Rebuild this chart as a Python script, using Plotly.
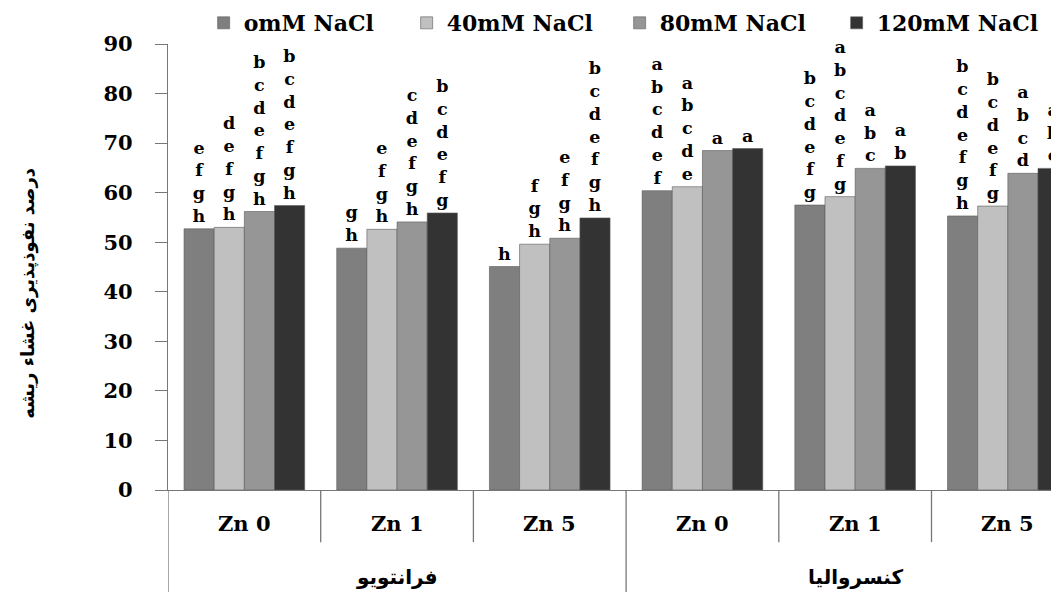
import plotly.graph_objects as go

# ---- data ----
zn_levels = ["Zn 0", "Zn 1", "Zn 5", "Zn 0", "Zn 1", "Zn 5"]
cultivars = ["فرانتویو", "کنسروالیا"]
series_names = ["omM NaCl", "40mM NaCl", "80mM NaCl", "120mM NaCl"]

nacl_0 = [52.7, 48.8, 45.1, 60.4, 57.5, 55.3]
nacl_40 = [53.0, 52.6, 49.6, 61.2, 59.2, 57.3]
nacl_80 = [56.2, 54.1, 50.8, 68.5, 64.9, 63.9]
nacl_120 = [57.4, 55.9, 54.9, 68.9, 65.4, 64.9]

letters_0 = ["efgh", "gh", "h", "abcdef", "bcdefg", "bcdefgh"]
letters_40 = ["defgh", "efgh", "fgh", "abcde", "abcdefg", "bcdefg"]
letters_80 = ["bcdefgh", "cdefgh", "efgh", "a", "abc", "abcd"]
letters_120 = ["bcdefgh", "bcdefg", "bcdefgh", "a", "ab", "abc"]

y_title = "درصد نفوذپذیری غشاء ریشه"
y_ticks = [0, 10, 20, 30, 40, 50, 60, 70, 80, 90]

colors = ["#7f7f7f", "#c0c0c0", "#969696", "#333333"]
legend_widths = [158, 168, 172, 180]

SERIF = "DejaVu Serif"

x = list(range(len(zn_levels)))
values = [nacl_0, nacl_40, nacl_80, nacl_120]
letters = [letters_0, letters_40, letters_80, letters_120]

fig = go.Figure()
for name, vals, lets, col, lw in zip(series_names, values, letters, colors, legend_widths):
    fig.add_trace(go.Bar(
        x=x, y=vals, name=name,
        marker=dict(color=col, line=dict(color="#5a5a5a", width=0.6)),
        text=["<br>".join(list(s)) for s in lets],
        textposition="outside",
        constraintext="none",
        cliponaxis=False,
        textfont=dict(family=SERIF, size=17.5, color="black", weight="bold"),
        legendwidth=lw,
        hoverinfo="skip",
    ))

n = len(zn_levels)
shapes = []
for i in range(n - 1):
    boundary = i + 0.5
    long = (i + 1) % 3 == 0
    shapes.append(dict(type="line", xref="x", yref="paper",
                       x0=boundary, x1=boundary, y0=0,
                       y1=-0.23 if long else -0.117,
                       line=dict(color="#777777", width=1.3)))
shapes.append(dict(type="line", xref="x", yref="paper",
                   x0=-0.5, x1=-0.5, y0=0, y1=-0.23,
                   line=dict(color="#777777", width=1.3)))

annotations = []
for i, lab in enumerate(zn_levels):
    annotations.append(dict(x=i, y=-0.074, xref="x", yref="paper",
                            xanchor="center", yanchor="middle",
                            text=lab, showarrow=False,
                            font=dict(family=SERIF, size=21, color="black", weight="bold")))
for j, cv in enumerate(cultivars):
    annotations.append(dict(x=j * 3 + 1, y=-0.195, xref="x", yref="paper",
                            xanchor="center", yanchor="middle",
                            text=cv, showarrow=False,
                            font=dict(family="DejaVu Sans", size=20, color="black", weight="bold")))
annotations.append(dict(x=-0.157, y=0.44, xref="paper", yref="paper",
                        xanchor="center", yanchor="middle",
                        text=y_title, textangle=-90, showarrow=False,
                        font=dict(family="DejaVu Sans", size=18, color="black", weight="bold")))

fig.update_layout(
    width=1051, height=584,
    margin=dict(l=160, r=0, t=36, b=102, autoexpand=False),
    paper_bgcolor="white", plot_bgcolor="white",
    barmode="group", bargap=0.21, bargroupgap=0,
    showlegend=True,
    legend=dict(orientation="h", x=0.04, y=1.047, xanchor="left", yanchor="middle",
                font=dict(family=SERIF, size=22, color="black", weight="bold"),
                itemwidth=30, traceorder="normal", borderwidth=0,
                bgcolor="rgba(0,0,0,0)"),
    xaxis=dict(range=[-0.5, 5.335], showticklabels=False, ticks="",
               showline=True, linecolor="#777777", linewidth=1.3,
               showgrid=False, zeroline=False),
    yaxis=dict(range=[0, 90], tickvals=y_ticks, ticks="outside", ticklen=12,
               tickcolor="#777777", tickwidth=1.3,
               showline=True, linecolor="#777777", linewidth=1.3,
               showgrid=False, zeroline=False, ticklabelstandoff=18,
               tickfont=dict(family=SERIF, size=21, color="black", weight="bold")),
    shapes=shapes,
    annotations=annotations,
)

fig.write_html("out.html")
